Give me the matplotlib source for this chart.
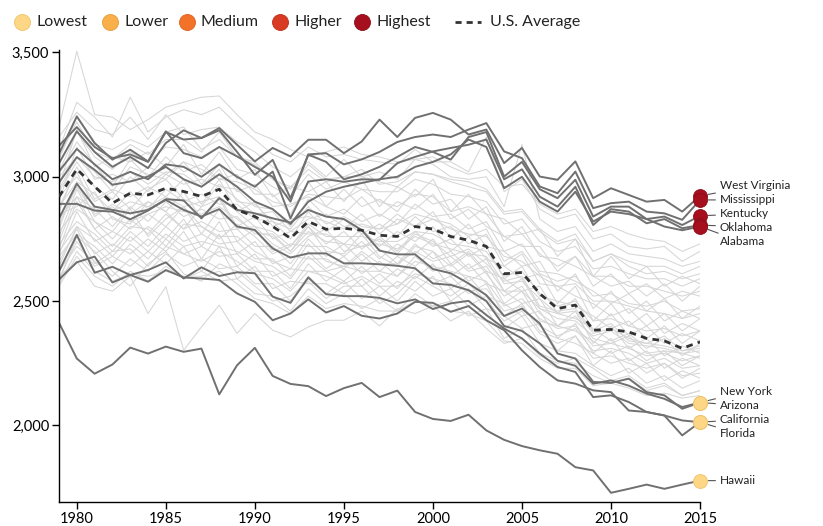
import matplotlib
matplotlib.use('Agg')
import matplotlib.pyplot as plt
from matplotlib.lines import Line2D
from matplotlib.ticker import FuncFormatter

plt.rcParams['font.family'] = ['Lato', 'DejaVu Sans']

years = list(range(1979, 2016))

# 最高组（红色）
west_virginia = [3125, 3200, 3120, 3075, 3090, 3060, 3180, 3150, 3156, 3196,
                 3129, 3062, 3116, 3082, 3149, 3149, 3095, 3142, 3230, 3160,
                 3237, 3257, 3230, 3170, 3190, 3055, 3116, 3001, 2988, 3062,
                 2914, 2954, 2927, 2900, 2907, 2860, 2923]
mississippi = [3093, 3243, 3136, 3069, 3109, 3062, 3183, 3095, 3075, 3120,
               3082, 3040, 3000, 2900, 3090, 3095, 3050, 3070, 3100, 3140,
               3160, 3170, 3160, 3190, 3216, 3102, 3075, 2961, 2934, 3021,
               2874, 2894, 2900, 2860, 2853, 2827, 2907]
kentucky = [3054, 3183, 3100, 3040, 3080, 3035, 3136, 3187, 3156, 3187,
            3100, 3008, 3068, 2914, 3089, 3060, 2990, 3010, 3040, 3080,
            3120, 3100, 3069, 3160, 3180, 3001, 3060, 2950, 2914, 2988,
            2840, 2880, 2880, 2830, 2840, 2806, 2843]
oklahoma = [3022, 3112, 3050, 2990, 3020, 2990, 3050, 3040, 3000, 3050,
            3000, 2960, 3021, 2833, 2981, 2990, 2980, 2990, 2988, 3055,
            3080, 3102, 3116, 3129, 3150, 2990, 3030, 2920, 2880, 2960,
            2806, 2870, 2860, 2813, 2830, 2793, 2806]
alabama = [2977, 3079, 3028, 2968, 2981, 3001, 3040, 2990, 2960, 3010,
           2960, 2900, 2870, 2810, 2900, 2940, 2960, 2975, 2990, 3000,
           3040, 3060, 3090, 3150, 3120, 2954, 3000, 2900, 2860, 2940,
           2820, 2860, 2850, 2830, 2800, 2785, 2800]

# 最低组（浅黄）
new_york = [2891, 2891, 2864, 2860, 2829, 2864, 2910, 2905, 2833, 2914,
            2867, 2853, 2833, 2816, 2867, 2840, 2830, 2786, 2703, 2688,
            2688, 2629, 2612, 2571, 2524, 2440, 2470, 2410, 2289, 2269,
            2175, 2171, 2188, 2134, 2121, 2067, 2092]
arizona = [2833, 2972, 2880, 2867, 2853, 2867, 2907, 2867, 2840, 2870,
           2800, 2786, 2712, 2675, 2692, 2692, 2652, 2652, 2648, 2642,
           2632, 2571, 2565, 2544, 2500, 2400, 2380, 2330, 2260, 2240,
           2168, 2181, 2160, 2128, 2107, 2074, 2092]
california = [2620, 2766, 2614, 2638, 2605, 2625, 2656, 2591, 2636, 2601,
              2616, 2612, 2518, 2493, 2595, 2528, 2520, 2520, 2513, 2491,
              2507, 2468, 2491, 2501, 2444, 2390, 2350, 2289, 2235, 2215,
              2114, 2121, 2094, 2054, 2040, 1960, 2013]
florida = [2587, 2656, 2679, 2575, 2605, 2578, 2625, 2595, 2591, 2585,
           2531, 2497, 2423, 2450, 2507, 2454, 2480, 2441, 2430, 2450,
           2497, 2493, 2457, 2480, 2423, 2383, 2302, 2235, 2181, 2168,
           2141, 2134, 2060, 2054, 2040, 2020, 2013]
hawaii = [2413, 2269, 2208, 2245, 2313, 2289, 2317, 2296, 2309, 2125,
          2242, 2312, 2199, 2167, 2158, 2118, 2150, 2171, 2114, 2140,
          2054, 2026, 2018, 2043, 1980, 1942, 1917, 1900, 1886, 1832,
          1819, 1729, 1745, 1762, 1745, 1762, 1778]

us_average = [2920, 3031, 2961, 2894, 2934, 2927, 2954, 2941, 2921, 2950,
              2867, 2840, 2800, 2753, 2820, 2789, 2793, 2785, 2765, 2760,
              2800, 2790, 2760, 2745, 2720, 2610, 2615, 2530, 2470, 2484,
              2383, 2386, 2376, 2350, 2340, 2310, 2336]

# 其他州（浅灰背景线）
other_states = [
    [3200, 3505, 3250, 3240, 3190, 3230, 3280, 3300, 3320, 3325, 3250, 3180, 3150, 3110, 3080, 3100, 3120, 3090, 3080, 3060,
     3070, 3080, 3040, 3010, 3030, 2960, 2970, 2890, 2850, 2870, 2780, 2800, 2770, 2750, 2740, 2700, 2730],
    [3110, 3300, 3240, 3160, 3320, 3180, 3240, 3270, 3250, 3280, 3210, 3150, 3090, 3060, 3120, 3080, 3090, 3070, 3060, 3050,
     3110, 3060, 3060, 3020, 3160, 2940, 2990, 2870, 2830, 2850, 2750, 2770, 2720, 2710, 2720, 2660, 2700],
    [3160, 3260, 3190, 3170, 3240, 3150, 3250, 3170, 3190, 3200, 3140, 3100, 3040, 3000, 3060, 3000, 3070, 3000, 3020, 2990,
     3070, 3050, 3000, 2990, 3000, 2880, 3130, 2830, 2780, 2800, 2700, 2730, 2690, 2680, 2670, 2640, 2660],
    [3070, 3240, 3130, 3110, 3150, 3120, 3180, 3200, 3110, 3150, 3080, 3060, 2990, 2950, 3050, 2990, 3000, 3030, 2970, 2980,
     3020, 3010, 2990, 2980, 2950, 2860, 2870, 2790, 2740, 2770, 2660, 2690, 2660, 2640, 2640, 2610, 2640],
    [2960, 3190, 3040, 3080, 3060, 3100, 3040, 3130, 3010, 3100, 2990, 3030, 2920, 2960, 2940, 2980, 2900, 2990, 2880, 2960,
     2920, 2990, 2860, 2930, 2850, 2830, 2770, 2790, 2680, 2750, 2600, 2680, 2590, 2640, 2560, 2600, 2570],
    [3010, 3140, 3050, 2960, 3070, 3000, 3080, 3020, 3050, 2990, 3010, 2930, 2930, 2850, 2980, 2880, 2950, 2880, 2910, 2860,
     2950, 2890, 2910, 2830, 2880, 2740, 2800, 2680, 2670, 2640, 2600, 2560, 2580, 2520, 2570, 2500, 2560],
    [2900, 3120, 2990, 3010, 2980, 3040, 3010, 3060, 2970, 3050, 2940, 2970, 2880, 2890, 2920, 2880, 2850, 2920, 2840, 2900,
     2870, 2930, 2830, 2870, 2800, 2760, 2720, 2720, 2620, 2680, 2560, 2610, 2530, 2570, 2510, 2540, 2520],
    [2940, 3060, 2960, 2910, 3000, 2940, 3010, 2970, 2990, 2960, 2950, 2880, 2870, 2800, 2910, 2840, 2870, 2820, 2850, 2810,
     2890, 2840, 2850, 2790, 2820, 2700, 2730, 2620, 2610, 2580, 2540, 2490, 2530, 2460, 2510, 2430, 2480],
    [2860, 3040, 2910, 2950, 2920, 2960, 2920, 2990, 2890, 2990, 2860, 2900, 2800, 2830, 2840, 2820, 2790, 2850, 2770, 2830,
     2800, 2860, 2750, 2810, 2720, 2700, 2640, 2660, 2540, 2610, 2470, 2540, 2450, 2500, 2420, 2460, 2430],
    [2880, 2980, 2930, 2860, 2940, 2870, 2950, 2900, 2930, 2890, 2890, 2830, 2820, 2750, 2860, 2780, 2830, 2770, 2810, 2760,
     2840, 2780, 2800, 2730, 2770, 2640, 2690, 2570, 2560, 2520, 2490, 2440, 2470, 2400, 2450, 2380, 2430],
    [2790, 2980, 2840, 2890, 2850, 2900, 2860, 2940, 2830, 2920, 2800, 2840, 2750, 2780, 2770, 2770, 2730, 2790, 2720, 2780,
     2740, 2800, 2700, 2760, 2670, 2640, 2590, 2610, 2490, 2560, 2420, 2490, 2400, 2450, 2370, 2410, 2380],
    [2830, 2920, 2870, 2800, 2880, 2820, 2900, 2840, 2870, 2830, 2840, 2770, 2770, 2700, 2800, 2730, 2780, 2710, 2760, 2700,
     2780, 2720, 2750, 2680, 2720, 2590, 2640, 2520, 2500, 2480, 2440, 2390, 2420, 2350, 2400, 2330, 2380],
    [2740, 2920, 2790, 2840, 2790, 2850, 2800, 2880, 2770, 2870, 2740, 2790, 2700, 2730, 2720, 2720, 2680, 2740, 2670, 2730,
     2690, 2750, 2650, 2700, 2620, 2590, 2540, 2560, 2450, 2510, 2380, 2450, 2360, 2400, 2330, 2370, 2340],
    [2780, 2870, 2820, 2750, 2830, 2770, 2850, 2790, 2820, 2780, 2790, 2720, 2720, 2650, 2750, 2680, 2730, 2660, 2710, 2650,
     2730, 2670, 2700, 2630, 2670, 2540, 2590, 2470, 2450, 2430, 2390, 2340, 2370, 2310, 2350, 2280, 2330],
    [2690, 2860, 2740, 2780, 2740, 2800, 2750, 2830, 2720, 2820, 2690, 2740, 2650, 2680, 2670, 2670, 2630, 2690, 2620, 2680,
     2640, 2700, 2600, 2650, 2570, 2540, 2490, 2510, 2400, 2460, 2330, 2400, 2310, 2350, 2280, 2320, 2290],
    [2730, 2820, 2770, 2700, 2780, 2720, 2800, 2740, 2770, 2730, 2740, 2670, 2670, 2600, 2700, 2630, 2680, 2610, 2660, 2600,
     2680, 2620, 2650, 2580, 2620, 2490, 2540, 2420, 2400, 2380, 2340, 2290, 2320, 2260, 2300, 2240, 2280],
    [2640, 2800, 2690, 2730, 2690, 2750, 2700, 2780, 2670, 2770, 2640, 2690, 2600, 2630, 2620, 2620, 2580, 2640, 2570, 2630,
     2590, 2650, 2550, 2600, 2520, 2490, 2440, 2460, 2350, 2410, 2290, 2350, 2260, 2300, 2230, 2270, 2240],
    [2680, 2770, 2720, 2650, 2730, 2670, 2750, 2690, 2720, 2680, 2690, 2620, 2620, 2550, 2650, 2580, 2630, 2560, 2610, 2550,
     2630, 2570, 2600, 2530, 2570, 2440, 2490, 2380, 2350, 2330, 2290, 2250, 2270, 2210, 2250, 2190, 2230],
    [2590, 2740, 2640, 2680, 2640, 2700, 2650, 2720, 2620, 2720, 2590, 2640, 2550, 2580, 2570, 2570, 2530, 2590, 2520, 2580,
     2540, 2600, 2500, 2550, 2470, 2440, 2390, 2410, 2300, 2360, 2240, 2300, 2210, 2250, 2180, 2220, 2190],
    [2620, 2720, 2660, 2600, 2670, 2620, 2690, 2640, 2670, 2630, 2640, 2570, 2570, 2500, 2600, 2530, 2580, 2510, 2560, 2500,
     2580, 2520, 2550, 2480, 2520, 2390, 2440, 2330, 2300, 2290, 2240, 2200, 2230, 2170, 2200, 2150, 2180],
    [2560, 2680, 2600, 2560, 2620, 2580, 2640, 2590, 2620, 2580, 2590, 2530, 2520, 2460, 2550, 2490, 2530, 2470, 2510, 2460,
     2530, 2480, 2500, 2440, 2470, 2350, 2390, 2290, 2260, 2250, 2200, 2170, 2190, 2140, 2160, 2120, 2140],
    [2600, 2660, 2560, 2540, 2600, 2450, 2558, 2302, 2396, 2484, 2370, 2450, 2383, 2356, 2396, 2423, 2423, 2460, 2400, 2470,
     2450, 2480, 2420, 2460, 2390, 2330, 2350, 2280, 2250, 2270, 2230, 2180, 2200, 2150, 2170, 2120, 2140],
    [2950, 3080, 3000, 2980, 3020, 2970, 3020, 3010, 2960, 3030, 2900, 2890, 2820, 2790, 2880, 2810, 2840, 2800, 2790, 2810,
     2850, 2830, 2790, 2770, 2760, 2680, 2660, 2600, 2560, 2570, 2500, 2500, 2480, 2460, 2450, 2430, 2450],
    [2700, 2800, 2750, 2680, 2760, 2700, 2770, 2720, 2740, 2720, 2700, 2660, 2640, 2590, 2680, 2620, 2640, 2620, 2620, 2600,
     2660, 2640, 2620, 2600, 2580, 2480, 2510, 2430, 2390, 2400, 2320, 2330, 2310, 2280, 2290, 2260, 2280],
    [2880, 3020, 2870, 2860, 2900, 2880, 2920, 2880, 2900, 2920, 2860, 2800, 2780, 2720, 2810, 2760, 2760, 2760, 2740, 2740,
     2780, 2770, 2730, 2720, 2700, 2600, 2620, 2530, 2480, 2500, 2420, 2430, 2400, 2380, 2390, 2360, 2380],
    [3020, 3180, 3080, 3030, 3100, 3060, 3120, 3110, 3080, 3120, 3030, 3010, 2960, 2920, 3010, 2950, 2980, 2950, 2940, 2940,
     2990, 2970, 2930, 2920, 2900, 2810, 2830, 2740, 2700, 2720, 2630, 2640, 2610, 2590, 2590, 2560, 2590],
    [2760, 2950, 2820, 2780, 2870, 2760, 2830, 2880, 2800, 2750, 2810, 2760, 2690, 2720, 2800, 2700, 2690, 2770, 2680, 2640,
     2720, 2700, 2640, 2690, 2610, 2520, 2560, 2450, 2400, 2440, 2350, 2330, 2360, 2290, 2300, 2290, 2270],
    [2850, 2880, 2940, 2830, 2810, 2900, 2860, 2790, 2880, 2910, 2790, 2800, 2730, 2690, 2760, 2790, 2700, 2720, 2750, 2690,
     2770, 2740, 2680, 2710, 2650, 2580, 2600, 2480, 2460, 2470, 2380, 2410, 2340, 2330, 2360, 2300, 2310],
    [2920, 3000, 2900, 2940, 2870, 2950, 2990, 2910, 2880, 2970, 2910, 2850, 2860, 2780, 2830, 2850, 2800, 2810, 2790, 2850,
     2800, 2830, 2810, 2760, 2790, 2660, 2700, 2610, 2580, 2600, 2520, 2530, 2490, 2480, 2500, 2460, 2470],
    [2580, 2760, 2700, 2620, 2560, 2650, 2700, 2610, 2580, 2650, 2620, 2560, 2500, 2520, 2580, 2510, 2560, 2560, 2490, 2530,
     2600, 2560, 2520, 2570, 2500, 2420, 2460, 2370, 2330, 2360, 2270, 2280, 2250, 2230, 2250, 2200, 2210],
    [3000, 3080, 3020, 2940, 3040, 3010, 2990, 3060, 3030, 2990, 2980, 2950, 2900, 2880, 2930, 2920, 2910, 2950, 2900, 2880,
     2930, 2920, 2860, 2880, 2850, 2760, 2770, 2690, 2640, 2680, 2600, 2600, 2560, 2560, 2540, 2520, 2540],
    [2710, 2900, 2790, 2720, 2800, 2790, 2720, 2810, 2800, 2760, 2760, 2700, 2660, 2630, 2730, 2660, 2640, 2700, 2650, 2650,
     2700, 2660, 2680, 2620, 2640, 2540, 2540, 2470, 2430, 2420, 2360, 2380, 2330, 2320, 2310, 2290, 2300],
    [2660, 2790, 2650, 2700, 2710, 2640, 2720, 2690, 2660, 2700, 2660, 2610, 2590, 2540, 2620, 2600, 2570, 2600, 2560, 2560,
     2610, 2590, 2570, 2540, 2550, 2460, 2480, 2400, 2360, 2390, 2300, 2310, 2290, 2250, 2270, 2230, 2240],
    [3080, 3220, 3100, 3070, 3130, 3090, 3150, 3150, 3100, 3180, 3080, 3050, 2990, 2960, 3030, 2980, 3000, 3000, 2980, 2960,
     3020, 3010, 2980, 2960, 2940, 2850, 2860, 2780, 2730, 2750, 2660, 2690, 2640, 2610, 2620, 2590, 2610],
    [2810, 2960, 2850, 2880, 2820, 2850, 2880, 2860, 2850, 2880, 2830, 2780, 2760, 2700, 2780, 2740, 2730, 2720, 2730, 2710,
     2760, 2730, 2710, 2690, 2680, 2570, 2580, 2510, 2450, 2460, 2370, 2390, 2350, 2330, 2320, 2300, 2320],
    [2570, 2700, 2620, 2580, 2610, 2600, 2620, 2600, 2600, 2620, 2570, 2510, 2490, 2450, 2520, 2470, 2490, 2480, 2460, 2460,
     2500, 2480, 2460, 2450, 2420, 2340, 2330, 2270, 2230, 2230, 2160, 2170, 2150, 2120, 2130, 2110, 2120],
]

highest_names = ['West Virginia', 'Mississippi', 'Kentucky', 'Oklahoma', 'Alabama']
highest_values = [west_virginia, mississippi, kentucky, oklahoma, alabama]
lowest_names = ['New York', 'Arizona', 'California', 'Florida', 'Hawaii']
lowest_values = [new_york, arizona, california, florida, hawaii]

legend_labels = ['Lowest', 'Lower', 'Medium', 'Higher', 'Highest']
legend_colors = ['#fdd785', '#f9b04a', '#f2722a', '#d93a24', '#a50f1e']
legend_edges = ['#efc26a', '#e99a35', '#dd5f1c', '#c02d18', '#8c0d18']

# 标签位置（数据坐标）
label_x = 2016.1
highest_label_y = [2964, 2907, 2851, 2798, 2738]
lowest_label_y = [2137, 2081, 2024, 1968, 1778]

fig = plt.figure(figsize=(8.23, 5.26), dpi=100)
ax = fig.add_axes([59 / 823, 24 / 526, 641 / 823, 452 / 526])

for vals in other_states:
    ax.plot(years, vals, color='#d6d6d6', lw=0.75, zorder=1)

for vals in highest_values + lowest_values:
    ax.plot(years, vals, color='#707070', lw=1.4, zorder=2)

ax.plot(years, us_average, color='#333333', lw=2.0, dashes=(2.4, 1.9), zorder=3)

# 末端圆点 + 标签
def mark_and_label(values, names, label_ys, color, edge):
    for vals, name, ly in zip(values, names, label_ys):
        ax.plot(years[-1], vals[-1], 'o', ms=10, color=color,
                mec=edge, mew=0.6, clip_on=False, zorder=5)
        ax.annotate(name, xy=(years[-1], vals[-1]), xytext=(label_x, ly),
                    fontsize=8.5, va='center', ha='left', color='#222222',
                    annotation_clip=False,
                    arrowprops=dict(arrowstyle='-', color='#555555', lw=0.8,
                                    shrinkA=1, shrinkB=6))

mark_and_label(highest_values, highest_names, highest_label_y, legend_colors[4], legend_edges[4])
mark_and_label(lowest_values, lowest_names, lowest_label_y, legend_colors[0], legend_edges[0])

ax.set_xlim(1979, 2015)
ax.set_ylim(1692, 3510)
ax.set_xticks([1980, 1985, 1990, 1995, 2000, 2005, 2010, 2015])
ax.set_yticks([2000, 2500, 3000, 3500])
ax.yaxis.set_major_formatter(FuncFormatter(lambda v, p: f"{v:,.0f}"))
ax.tick_params(direction='out', length=5, width=1, labelsize=10.5, pad=2, colors='black')
for s in ['top', 'right']:
    ax.spines[s].set_visible(False)
for s in ['left', 'bottom']:
    ax.spines[s].set_linewidth(1)
    ax.spines[s].set_color('black')

# 图例（手动放置，像素位置换算到 figure 坐标）
W, H = 823, 526
leg_y = 1 - 22 / H
circle_x = [22, 110, 187, 280, 362]
for cx, lab, c, e in zip(circle_x, legend_labels, legend_colors, legend_edges):
    fig.add_artist(Line2D([cx / W], [leg_y], marker='o', ms=11.5, color=c, mec=e, mew=0.6,
                          transform=fig.transFigure))
    fig.text((cx + 14) / W, leg_y, lab, fontsize=11.5, va='center', ha='left', color='#222222')
fig.add_artist(Line2D([455 / W, 481 / W], [leg_y, leg_y], color='#333333', lw=2.0,
                      dashes=(2.2, 1.8), transform=fig.transFigure))
fig.text(490 / W, leg_y, 'U.S. Average', fontsize=11.5, va='center', ha='left', color='#222222')

fig.savefig('out.png', dpi=100)
